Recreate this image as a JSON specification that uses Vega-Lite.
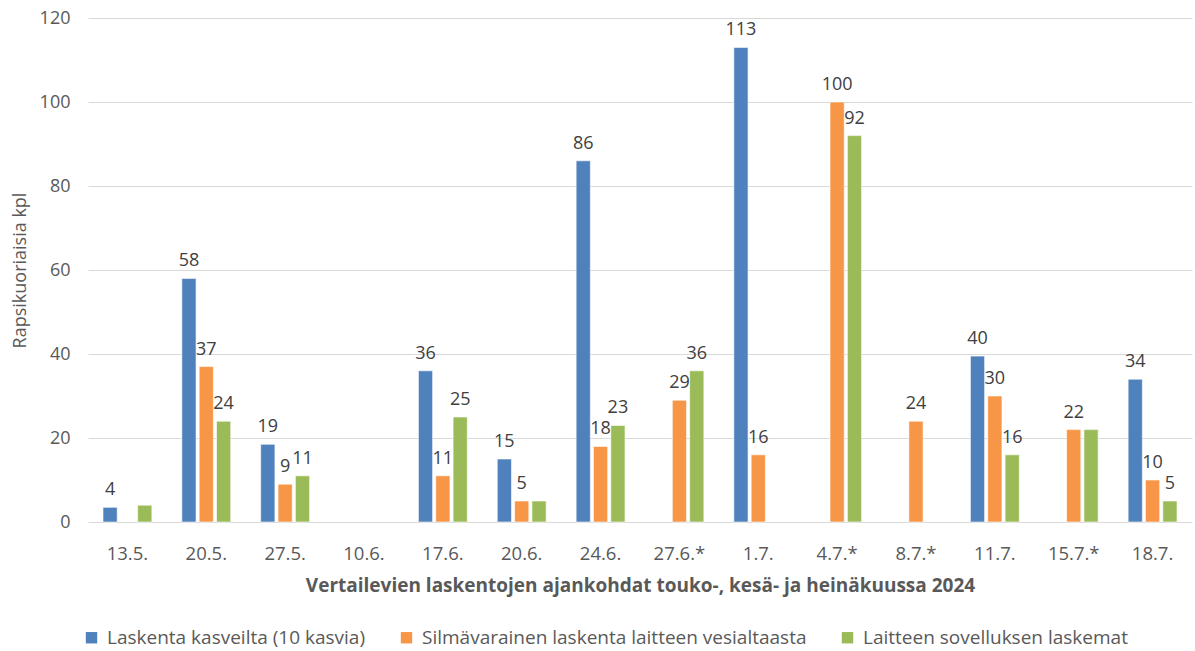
{
  "$schema": "https://vega.github.io/schema/vega-lite/v6.json",
  "width": 1104,
  "height": 504,
  "autosize": {"type": "none"},
  "padding": {"left": 88, "top": 18, "right": 3, "bottom": 129},
  "background": "white",
  "config": {
    "view": {"stroke": null},
    "font": "Open Sans"
  },
  "data": {
    "values": [
      {"pvm": "13.5.", "sarja": "Laskenta kasveilta (10 kasvia)", "arvo": 3.5},
      {"pvm": "13.5.", "sarja": "Laitteen sovelluksen laskemat", "arvo": 4},
      {"pvm": "20.5.", "sarja": "Laskenta kasveilta (10 kasvia)", "arvo": 58},
      {"pvm": "20.5.", "sarja": "Silmävarainen laskenta laitteen vesialtaasta", "arvo": 37},
      {"pvm": "20.5.", "sarja": "Laitteen sovelluksen laskemat", "arvo": 24},
      {"pvm": "27.5.", "sarja": "Laskenta kasveilta (10 kasvia)", "arvo": 18.5},
      {"pvm": "27.5.", "sarja": "Silmävarainen laskenta laitteen vesialtaasta", "arvo": 9},
      {"pvm": "27.5.", "sarja": "Laitteen sovelluksen laskemat", "arvo": 11},
      {"pvm": "17.6.", "sarja": "Laskenta kasveilta (10 kasvia)", "arvo": 36},
      {"pvm": "17.6.", "sarja": "Silmävarainen laskenta laitteen vesialtaasta", "arvo": 11},
      {"pvm": "17.6.", "sarja": "Laitteen sovelluksen laskemat", "arvo": 25},
      {"pvm": "20.6.", "sarja": "Laskenta kasveilta (10 kasvia)", "arvo": 15},
      {"pvm": "20.6.", "sarja": "Silmävarainen laskenta laitteen vesialtaasta", "arvo": 5},
      {"pvm": "20.6.", "sarja": "Laitteen sovelluksen laskemat", "arvo": 5},
      {"pvm": "24.6.", "sarja": "Laskenta kasveilta (10 kasvia)", "arvo": 86},
      {"pvm": "24.6.", "sarja": "Silmävarainen laskenta laitteen vesialtaasta", "arvo": 18},
      {"pvm": "24.6.", "sarja": "Laitteen sovelluksen laskemat", "arvo": 23},
      {"pvm": "27.6.*", "sarja": "Silmävarainen laskenta laitteen vesialtaasta", "arvo": 29},
      {"pvm": "27.6.*", "sarja": "Laitteen sovelluksen laskemat", "arvo": 36},
      {"pvm": "1.7.", "sarja": "Laskenta kasveilta (10 kasvia)", "arvo": 113},
      {"pvm": "1.7.", "sarja": "Silmävarainen laskenta laitteen vesialtaasta", "arvo": 16},
      {"pvm": "4.7.*", "sarja": "Silmävarainen laskenta laitteen vesialtaasta", "arvo": 100},
      {"pvm": "4.7.*", "sarja": "Laitteen sovelluksen laskemat", "arvo": 92},
      {"pvm": "8.7.*", "sarja": "Silmävarainen laskenta laitteen vesialtaasta", "arvo": 24},
      {"pvm": "11.7.", "sarja": "Laskenta kasveilta (10 kasvia)", "arvo": 39.5},
      {"pvm": "11.7.", "sarja": "Silmävarainen laskenta laitteen vesialtaasta", "arvo": 30},
      {"pvm": "11.7.", "sarja": "Laitteen sovelluksen laskemat", "arvo": 16},
      {"pvm": "15.7.*", "sarja": "Silmävarainen laskenta laitteen vesialtaasta", "arvo": 22},
      {"pvm": "15.7.*", "sarja": "Laitteen sovelluksen laskemat", "arvo": 22},
      {"pvm": "18.7.", "sarja": "Laskenta kasveilta (10 kasvia)", "arvo": 34},
      {"pvm": "18.7.", "sarja": "Silmävarainen laskenta laitteen vesialtaasta", "arvo": 10},
      {"pvm": "18.7.", "sarja": "Laitteen sovelluksen laskemat", "arvo": 5}
    ]
  },
  "encoding": {
    "x": {
      "field": "pvm",
      "type": "nominal",
      "scale": {
        "domain": ["13.5.", "20.5.", "27.5.", "10.6.", "17.6.", "20.6.", "24.6.", "27.6.*", "1.7.", "4.7.*", "8.7.*", "11.7.", "15.7.*", "18.7."],
        "paddingInner": 0.38,
        "paddingOuter": 0.19
      },
      "axis": {
        "title": "Vertailevien laskentojen ajankohdat touko-, kesä- ja heinäkuussa 2024",
        "titleFont": "Open Sans",
        "titleFontSize": 19,
        "titleFontWeight": "bold",
        "titleColor": "#595959",
        "titlePadding": 14,
        "labelAngle": 0,
        "labelFont": "Open Sans",
        "labelFontSize": 18.5,
        "labelColor": "#595959",
        "labelPadding": 22,
        "domain": false,
        "ticks": false,
        "grid": false
      }
    },
    "xOffset": {
      "field": "sarja",
      "type": "nominal",
      "scale": {
        "domain": ["Laskenta kasveilta (10 kasvia)", "Silmävarainen laskenta laitteen vesialtaasta", "Laitteen sovelluksen laskemat"],
        "paddingInner": 0.18
      }
    },
    "y": {
      "field": "arvo",
      "type": "quantitative",
      "scale": {"domain": [0, 120]},
      "axis": {
        "title": "Rapsikuoriaisia kpl",
        "titleFont": "Open Sans",
        "titleFontSize": 18,
        "titleFontWeight": "normal",
        "titleColor": "#595959",
        "titlePadding": 10,
        "values": [0, 20, 40, 60, 80, 100, 120],
        "labelFont": "Open Sans",
        "labelFontSize": 18,
        "labelColor": "#595959",
        "labelPadding": 18,
        "domain": false,
        "ticks": false,
        "grid": true,
        "gridColor": "#d9d9d9",
        "gridWidth": 1
      }
    }
  },
  "layer": [
    {
      "mark": {"type": "bar", "stroke": "white", "strokeWidth": 0.6},
      "encoding": {
        "color": {
          "field": "sarja",
          "type": "nominal",
          "scale": {
            "domain": ["Laskenta kasveilta (10 kasvia)", "Silmävarainen laskenta laitteen vesialtaasta", "Laitteen sovelluksen laskemat"],
            "range": ["#4F81BD", "#F79646", "#9BBB59"]
          },
          "legend": {
            "title": null,
            "orient": "none",
            "direction": "horizontal",
            "legendX": -6,
            "legendY": 610,
            "symbolType": "square",
            "symbolSize": 130,
            "symbolStrokeWidth": 0,
            "labelFont": "Open Sans",
            "labelFontSize": 19,
            "labelColor": "#595959",
            "labelLimit": 600,
            "columnPadding": 31,
            "labelOffset": 6
          }
        }
      }
    },
    {
      "transform": [
        {"filter": "!(datum.sarja === 'Laitteen sovelluksen laskemat' && indexof(['13.5.', '20.6.', '15.7.*'], datum.pvm) >= 0)"}
      ],
      "mark": {"type": "text", "baseline": "bottom", "dy": -8, "font": "Open Sans", "fontSize": 18, "color": "#404040"},
      "encoding": {
        "text": {"field": "arvo", "type": "quantitative", "format": ".0f"}
      }
    }
  ]
}
